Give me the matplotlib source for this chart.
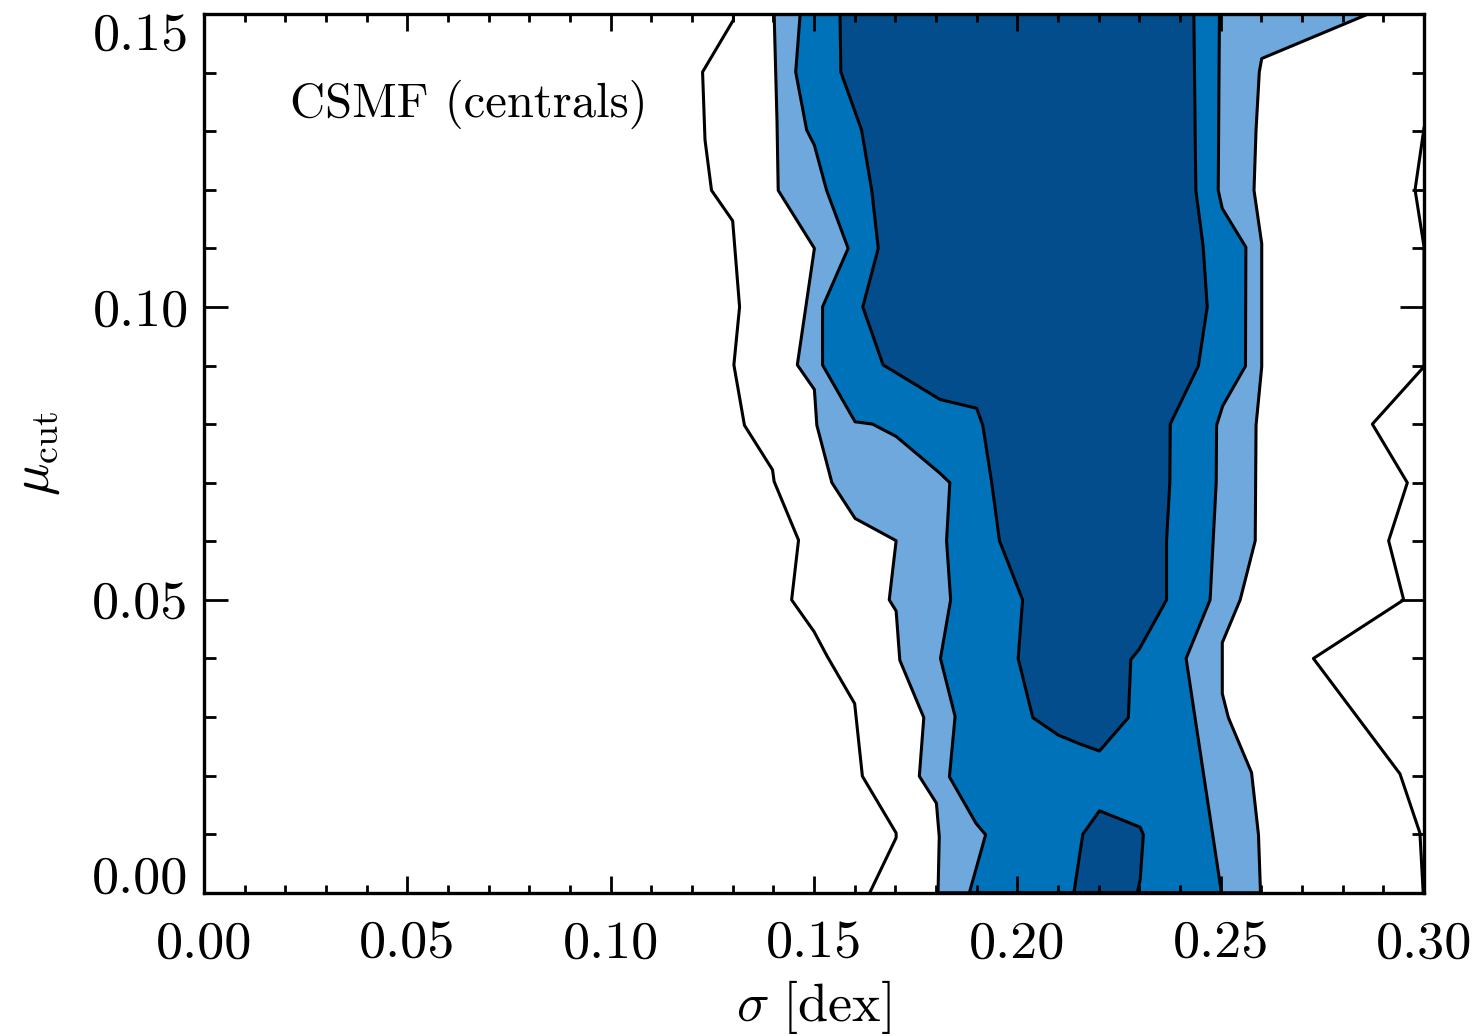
import numpy as np
import matplotlib
matplotlib.use("Agg")
import matplotlib.pyplot as plt
from matplotlib.ticker import MultipleLocator

plt.rcParams['font.family'] = 'cmr10'
plt.rcParams['mathtext.fontset'] = 'cm'
plt.rcParams['axes.formatter.use_mathtext'] = True

# contour boundaries in (sigma, mu_cut); left edges run top -> bottom,
# right edges run bottom -> top

# lowest level: plain contour lines, no fill
lvl1_left_sig = [0.1302, 0.1302, 0.1226, 0.1232, 0.1248, 0.1300, 0.1317, 0.1303, 0.1329,
                 0.1398, 0.1402, 0.1462, 0.1445, 0.1500, 0.1533, 0.1600, 0.1619, 0.1702,
                 0.1702, 0.1637]
lvl1_left_mu = [0.1500, 0.1490, 0.1401, 0.1285, 0.1199, 0.1147, 0.1000, 0.0901, 0.0798,
                0.0722, 0.0702, 0.0602, 0.0500, 0.0446, 0.0403, 0.0323, 0.0199, 0.0102,
                0.0094, 0.0000]
lvl1_right_sig = [0.2998, 0.2990, 0.2941, 0.2728, 0.2950, 0.2913, 0.2959, 0.2873, 0.3000,
                  0.3000, 0.2978, 0.3000]
lvl1_right_mu = [0.0000, 0.0102, 0.0203, 0.0400, 0.0500, 0.0601, 0.0700, 0.0800, 0.0898,
                 0.1103, 0.1200, 0.1305]

# second level (light blue)
lvl2_left_sig = [0.1402, 0.1409, 0.1412, 0.1501, 0.1459, 0.1501, 0.1507, 0.1544, 0.1601,
                 0.1702, 0.1685, 0.1702, 0.1711, 0.1770, 0.1759, 0.1801, 0.1808, 0.1805]
lvl2_left_mu = [0.1500, 0.1318, 0.1199, 0.1100, 0.0901, 0.0859, 0.0798, 0.0700, 0.0639,
                0.0601, 0.0500, 0.0481, 0.0397, 0.0299, 0.0199, 0.0153, 0.0096, 0.0000]
lvl2_right_sig = [0.2598, 0.2593, 0.2576, 0.2519, 0.2504, 0.2504, 0.2548, 0.2585, 0.2587,
                  0.2601, 0.2601, 0.2582, 0.2587, 0.2595, 0.2601, 0.2863]
lvl2_right_mu = [0.0000, 0.0099, 0.0205, 0.0299, 0.0340, 0.0427, 0.0500, 0.0601, 0.0798,
                 0.0898, 0.1108, 0.1199, 0.1302, 0.1401, 0.1424, 0.1500]

# third level (mid blue)
lvl3_left_sig = [0.1466, 0.1455, 0.1482, 0.1501, 0.1531, 0.1584, 0.1521, 0.1521, 0.1601,
                 0.1644, 0.1702, 0.1810, 0.1834, 0.1826, 0.1836, 0.1811, 0.1847, 0.1833,
                 0.1898, 0.1922, 0.1882]
lvl3_left_mu = [0.1500, 0.1401, 0.1302, 0.1276, 0.1199, 0.1100, 0.1000, 0.0901, 0.0804,
                0.0800, 0.0779, 0.0716, 0.0700, 0.0601, 0.0500, 0.0400, 0.0301, 0.0198,
                0.0119, 0.0099, 0.0000]
lvl3_right_sig = [0.2502, 0.2415, 0.2474, 0.2489, 0.2490, 0.2505, 0.2561, 0.2562, 0.2504,
                  0.2494, 0.2497]
lvl3_right_mu = [0.0000, 0.0400, 0.0500, 0.0700, 0.0798, 0.0831, 0.0899, 0.1102, 0.1168,
                 0.1199, 0.1500]

# top level (dark blue), main body: one boundary that dips down and back up
lvl4_left_sig = [0.1564, 0.1566, 0.1617, 0.1642, 0.1658, 0.1620, 0.1670, 0.1810, 0.1900,
                 0.1915, 0.1937, 0.1956, 0.2013, 0.2002, 0.2038, 0.2101, 0.2154, 0.2202]
lvl4_left_mu = [0.1500, 0.1401, 0.1302, 0.1199, 0.1100, 0.1000, 0.0901, 0.0842, 0.0827,
                0.0798, 0.0700, 0.0601, 0.0500, 0.0400, 0.0299, 0.0269, 0.0254, 0.0242]
lvl4_right_sig = [0.2273, 0.2279, 0.2300, 0.2367, 0.2367, 0.2375, 0.2376, 0.2445, 0.2467,
                  0.2457, 0.2439, 0.2434]
lvl4_right_mu = [0.0299, 0.0398, 0.0416, 0.0500, 0.0601, 0.0700, 0.0800, 0.0899, 0.1000,
                 0.1103, 0.1199, 0.1500]

# top level, small island at the bottom
lvl4_isl_sig = [0.2139, 0.2161, 0.2202, 0.2302, 0.2310, 0.2302, 0.2295]
lvl4_isl_mu = [0.0000, 0.0100, 0.0140, 0.0112, 0.0099, 0.0022, 0.0000]

x_ticks = [0.00, 0.05, 0.10, 0.15, 0.20, 0.25, 0.30]
y_ticks = [0.00, 0.05, 0.10, 0.15]

light = '#6fa8dc'
mid = '#0072ba'
dark = '#034d8c'
lw = 2.2


def region(ax, lx, ly, rx, ry, color):
    xs = np.concatenate([lx, rx])
    ys = np.concatenate([ly, ry])
    ax.fill(xs, ys, color=color, lw=0, zorder=1)
    ax.plot(xs, ys, color='k', lw=lw, zorder=2)


fig = plt.figure(figsize=(14.81, 10.36), dpi=100)
ax = fig.add_axes([0.13774, 0.13822, 0.82377, 0.84827])

ax.plot(lvl1_left_sig, lvl1_left_mu, color='k', lw=lw, zorder=2)
ax.plot(lvl1_right_sig, lvl1_right_mu, color='k', lw=lw, zorder=2)
region(ax, lvl2_left_sig, lvl2_left_mu, lvl2_right_sig, lvl2_right_mu, light)
region(ax, lvl3_left_sig, lvl3_left_mu, lvl3_right_sig, lvl3_right_mu, mid)
region(ax, lvl4_left_sig, lvl4_left_mu, lvl4_right_sig, lvl4_right_mu, dark)
ax.fill(lvl4_isl_sig, lvl4_isl_mu, color=dark, lw=0, zorder=1)
ax.plot(lvl4_isl_sig, lvl4_isl_mu, color='k', lw=lw, zorder=2)

ax.set_xlim(0, 0.30)
ax.set_ylim(0, 0.15)

ax.set_xticks(x_ticks)
ax.set_xticklabels(['%.2f' % v for v in x_ticks])
ax.set_yticks(y_ticks)
ax.set_yticklabels(['%.2f' % v for v in y_ticks])
ax.xaxis.set_minor_locator(MultipleLocator(0.01))
ax.yaxis.set_minor_locator(MultipleLocator(0.01))

ax.tick_params(axis='both', which='both', direction='in', top=True, right=True,
               width=2.0, labelsize=39)
ax.tick_params(axis='x', which='major', length=12.2, pad=20)
ax.tick_params(axis='x', which='minor', length=6.1)
ax.tick_params(axis='y', which='major', length=17.3, pad=11)
ax.tick_params(axis='y', which='minor', length=8.6)

# keep end labels inside the axis range
ylabels = ax.get_yticklabels()
ylabels[0].set_verticalalignment('baseline')
ylabels[-1].set_verticalalignment('top')

for sp in ax.spines.values():
    sp.set_linewidth(2.4)

ax.set_xlabel(r'$\sigma\ [\mathrm{dex}]$', fontsize=39, va='center')
ax.xaxis.set_label_coords(0.5, -0.13)
ax.set_ylabel(r'$\mu_{\rm cut}$', fontsize=39, va='center')
ax.yaxis.set_label_coords(-0.136, 0.5)

ax.text(0.0705, 0.8826, 'CSMF (centrals)', transform=ax.transAxes,
        fontsize=35, ha='left', va='baseline')

fig.savefig('out.png', dpi=100)
